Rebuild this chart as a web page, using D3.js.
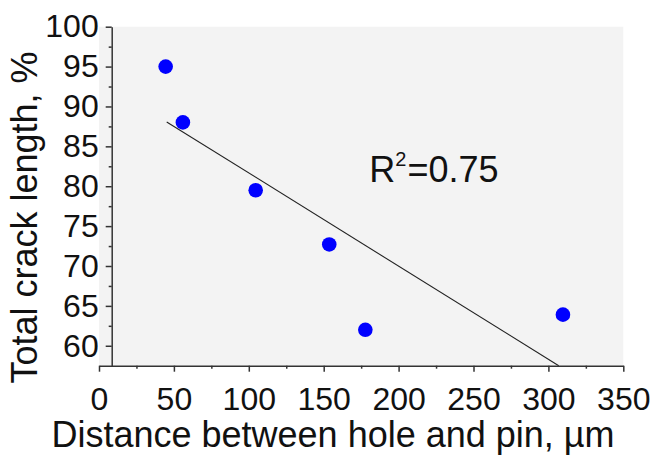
<!DOCTYPE html>
<html>
<head>
<meta charset="utf-8">
<script src="https://cdn.jsdelivr.net/npm/d3@7"></script>
<style>
  html, body { margin: 0; padding: 0; background: #ffffff; }
  svg { display: block; }
  text { font-family: "Liberation Sans", Arial, sans-serif; fill: #111; }
</style>
</head>
<body>
<svg id="chart" width="655" height="457"></svg>
<script>
// ---- data ----
const distance = [44.5, 56, 104.6, 153.7, 177.8, 309.7];
const crackLength = [95, 88, 79.5, 72.7, 62, 63.9];
const fitX = [45.2, 306.9];
const fitY = [88.06, 57.5];
const xTicks = [0, 50, 100, 150, 200, 250, 300, 350];
const xMinorTicks = [25, 75, 125, 175, 225, 275, 325];
const yTicks = [60, 65, 70, 75, 80, 85, 90, 95, 100];
const yMinorTicks = [62.5, 67.5, 72.5, 77.5, 82.5, 87.5, 92.5, 97.5];
const xTitle = "Distance between hole and pin, \u00B5m";
const yTitle = "Total crack length, %";
const annotation = { base: "R", sup: "2", rest: "=0.75" };

// ---- layout ----
const svg = d3.select("#chart");
const x = d3.scaleLinear().domain([0, 350]).range([99, 623.3]);
const y = d3.scaleLinear().domain([57.5, 100]).range([365.7, 26.7]);
const yAxisX = 111.7;

// plot background
svg.append("rect")
  .attr("x", x(0)).attr("y", y(100))
  .attr("width", x(350) - x(0)).attr("height", y(57.5) - y(100))
  .attr("fill", "#f3f3f3");

// fit line
svg.append("line")
  .attr("x1", x(fitX[0])).attr("y1", y(fitY[0]))
  .attr("x2", x(fitX[1])).attr("y2", y(fitY[1]))
  .attr("stroke", "#222").attr("stroke-width", 1.1);

// points
svg.append("g").selectAll("circle")
  .data(distance.map((d, i) => [d, crackLength[i]]))
  .join("circle")
  .attr("cx", d => x(d[0])).attr("cy", d => y(d[1]))
  .attr("r", 7.3).attr("fill", "#0000ff");

// axes
function styleAxis(g) {
  g.selectAll("path.domain").attr("stroke", "#333").attr("stroke-width", 1.5);
  g.selectAll(".tick line").attr("stroke", "#333").attr("stroke-width", 1.5);
  g.selectAll(".tick text").attr("font-size", 32).attr("fill", "#111")
    .attr("font-family", "'Liberation Sans', Arial, sans-serif");
}

const gx = svg.append("g").attr("transform", `translate(0,${y(57.5)})`)
  .call(d3.axisBottom(x).tickValues(xTicks).tickSize(6).tickSizeOuter(0).tickPadding(16).tickFormat(d3.format("d")));
styleAxis(gx);
const gxm = svg.append("g").attr("transform", `translate(0,${y(57.5)})`)
  .call(d3.axisBottom(x).tickValues(xMinorTicks).tickSize(3).tickSizeOuter(0).tickFormat(""));
styleAxis(gxm);
gxm.select("path.domain").remove();

const gy = svg.append("g").attr("transform", `translate(${yAxisX},0)`)
  .call(d3.axisLeft(y).tickValues(yTicks).tickSize(6).tickSizeOuter(0).tickPadding(7).tickFormat(d3.format("d")));
styleAxis(gy);
const gym = svg.append("g").attr("transform", `translate(${yAxisX},0)`)
  .call(d3.axisLeft(y).tickValues(yMinorTicks).tickSize(3).tickSizeOuter(0).tickFormat(""));
styleAxis(gym);
gym.select("path.domain").remove();

// titles
svg.append("text")
  .attr("x", 333).attr("y", 447.3)
  .attr("text-anchor", "middle").attr("font-size", 36)
  .text(xTitle);

svg.append("text")
  .attr("transform", "rotate(-90)")
  .attr("x", -217.5).attr("y", 37)
  .attr("text-anchor", "middle").attr("font-size", 36)
  .text(yTitle);

// annotation
const ann = svg.append("text")
  .attr("x", 369.3).attr("y", 181.7)
  .attr("font-size", 36);
ann.append("tspan").text(annotation.base);
ann.append("tspan").attr("dy", -16).attr("font-size", 20).text(annotation.sup);
ann.append("tspan").attr("dy", 16).attr("dx", 1).attr("font-size", 36).text(annotation.rest);
</script>
</body>
</html>
